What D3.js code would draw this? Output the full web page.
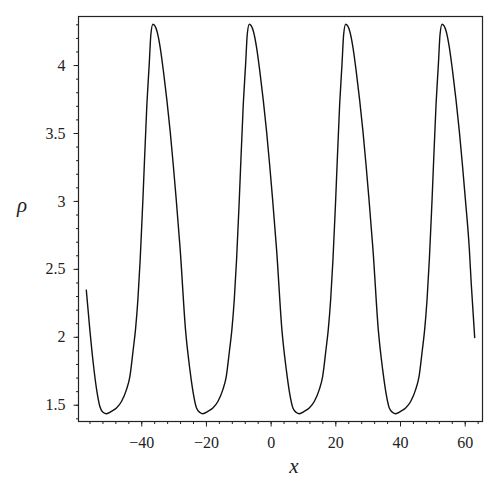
<!DOCTYPE html>
<html>
<head>
<meta charset="utf-8">
<script src="https://cdn.jsdelivr.net/npm/d3@7"></script>
<style>
  body { margin: 0; background: #fff; }
  svg { display: block; }
  svg text { font-family: "Liberation Serif", "Times New Roman", serif; }
</style>
</head>
<body>
<script>
'use strict';
(function () {
  // values
  let xValues = [
    -57.0, -55.9, -54.85, -53.8, -52.8, -51.75, -50.75,
    -49.21, -47.66, -46.11, -44.57, -43.51, -42.49, -41.78, -41.04, -40.33, -39.49,
    -38.26, -37.54, -37.02, -36.4, -35.16, -34.14, -33.12, -32.07, -31.05, -30.12, -29.19,
    -27.96, -26.32, -24.96, -23.93, -22.91, -21.86,
    -20.95, -19.41, -17.86, -16.31, -14.77, -13.71, -12.69, -11.98, -11.24, -10.53,
    -9.69, -8.46, -7.74, -7.22, -6.6, -5.36, -4.34, -3.32, -2.27, -1.25, -0.32, 0.61,
    1.84, 3.48, 4.84, 5.87, 6.89, 7.94,
    8.85, 10.39, 11.94, 13.49, 15.03, 16.09, 17.11, 17.82, 18.56, 19.27, 20.11,
    21.34, 22.06, 22.58, 23.2, 24.44, 25.46, 26.48, 27.53, 28.55, 29.48, 30.41,
    31.64, 33.28, 34.64, 35.67, 36.69, 37.74,
    38.65, 40.19, 41.74, 43.29, 44.83, 45.89, 46.91, 47.62, 48.36, 49.07, 49.91,
    51.14, 51.86, 52.38, 53.0, 54.24, 55.26, 56.28, 57.33, 58.35, 59.28, 60.21,
    61.44, 62.0, 63.1
  ];
  let rhoValues = [
    2.347, 2.053, 1.807, 1.611, 1.487, 1.443, 1.434,
    1.451, 1.476, 1.524, 1.611, 1.709, 1.905, 2.053, 2.274, 2.569, 3.011,
    3.711, 4.005, 4.227, 4.30, 4.251, 4.129, 3.95, 3.74, 3.51, 3.27, 3.011,
    2.642, 2.053, 1.758, 1.586, 1.476, 1.443,
    1.434, 1.451, 1.476, 1.524, 1.611, 1.709, 1.905, 2.053, 2.274, 2.569,
    3.011, 3.711, 4.005, 4.227, 4.30, 4.251, 4.129, 3.95, 3.74, 3.51, 3.27, 3.011,
    2.642, 2.053, 1.758, 1.586, 1.476, 1.443,
    1.434, 1.451, 1.476, 1.524, 1.611, 1.709, 1.905, 2.053, 2.274, 2.569, 3.011,
    3.711, 4.005, 4.227, 4.30, 4.251, 4.129, 3.95, 3.74, 3.51, 3.27, 3.011,
    2.642, 2.053, 1.758, 1.586, 1.476, 1.443,
    1.434, 1.451, 1.476, 1.524, 1.611, 1.709, 1.905, 2.053, 2.274, 2.569, 3.011,
    3.711, 4.005, 4.227, 4.30, 4.251, 4.129, 3.95, 3.74, 3.51, 3.27, 3.011,
    2.642, 2.40, 1.99
  ];
  let xTicks = [-40, -20, 0, 20, 40, 60];
  let yTicks = [1.5, 2, 2.5, 3, 3.5, 4];
  let xMinorTicks = [-56, -52, -48, -44, -40, -36, -32, -28, -24, -20, -16, -12, -8, -4,
    0, 4, 8, 12, 16, 20, 24, 28, 32, 36, 40, 44, 48, 52, 56, 60, 64];
  let yMinorTicks = [1.4, 1.5, 1.6, 1.7, 1.8, 1.9, 2, 2.1, 2.2, 2.3, 2.4, 2.5, 2.6, 2.7,
    2.8, 2.9, 3, 3.1, 3.2, 3.3, 3.4, 3.5, 3.6, 3.7, 3.8, 3.9, 4, 4.1, 4.2, 4.3];

  let width = 500;
  let height = 495;
  let plot = { left: 78.5, right: 482.5, top: 16.5, bottom: 421.5 };
  let labelFont = 'Liberation Serif';

  window.onload = function () {
    let svg = d3.select('body')
      .append('svg')
      .attr('width', width)
      .attr('height', height);

    let points = xValues.map((x, i) => ({ x: x, rho: rhoValues[i] }));

    // 2% padding around the data, like the original plot
    let xExt = d3.extent(xValues);
    let yExt = d3.extent(rhoValues);
    let xPad = (xExt[1] - xExt[0]) * 0.02;
    let yPad = (yExt[1] - yExt[0]) * 0.02;

    let xScale = d3.scaleLinear()
      .domain([xExt[0] - xPad, xExt[1] + xPad])
      .range([plot.left, plot.right]);
    let yScale = d3.scaleLinear()
      .domain([yExt[0] - yPad, yExt[1] + yPad])
      .range([plot.bottom, plot.top]);

    drawAxes(svg, xScale, yScale);

    let line = d3.line()
      .x((d) => xScale(d.x))
      .y((d) => yScale(d.rho))
      .curve(d3.curveMonotoneX);

    svg.append('path')
      .datum(points)
      .attr('fill', 'none')
      .attr('stroke', '#111')
      .attr('stroke-width', 1.4)
      .attr('stroke-linejoin', 'round')
      .attr('d', line);

    // axis titles
    svg.append('text')
      .attr('x', 294)
      .attr('y', 472.5)
      .attr('text-anchor', 'middle')
      .attr('font-family', labelFont)
      .style('font-family', labelFont)
      .style('font-style', 'italic')
      .style('font-size', '21px')
      .attr('fill', '#222')
      .text('x');
    svg.append('text')
      .attr('x', 22)
      .attr('y', 212)
      .attr('text-anchor', 'middle')
      .attr('font-family', labelFont)
      .style('font-family', labelFont)
      .style('font-style', 'italic')
      .style('font-size', '21px')
      .attr('fill', '#222')
      .text('ρ');
  };

  function drawAxes(svg, xScale, yScale) {
    // minor ticks
    svg.append('g')
      .attr('transform', 'translate(0,' + plot.bottom + ')')
      .call(d3.axisBottom(xScale).tickValues(xMinorTicks).tickSize(2.5).tickFormat(''))
      .call((g) => g.select('.domain').remove());
    svg.append('g')
      .attr('transform', 'translate(' + plot.left + ',0)')
      .call(d3.axisLeft(yScale).tickValues(yMinorTicks).tickSize(2.5).tickFormat(''))
      .call((g) => g.select('.domain').remove());

    // major ticks with labels
    let xAxis = svg.append('g')
      .attr('transform', 'translate(0,' + plot.bottom + ')')
      .call(d3.axisBottom(xScale).tickValues(xTicks).tickSize(5).tickPadding(10)
        .tickFormat((d) => d < 0 ? '\u2212' + Math.abs(d) : String(d)));
    xAxis.select('.domain').remove();

    let yAxis = svg.append('g')
      .attr('transform', 'translate(' + plot.left + ',0)')
      .call(d3.axisLeft(yScale).tickValues(yTicks).tickSize(5).tickPadding(8)
        .tickFormat((d) => String(d)));
    yAxis.select('.domain').remove();

    svg.selectAll('g').attr('font-family', labelFont).attr('font-size', 16);
    svg.selectAll('.tick line').attr('stroke', '#222');
    svg.selectAll('.tick text')
      .attr('font-family', labelFont)
      .style('font-family', labelFont)
      .style('font-size', '16px')
      .attr('fill', '#222');

    // frame
    svg.append('rect')
      .attr('x', plot.left)
      .attr('y', plot.top)
      .attr('width', plot.right - plot.left)
      .attr('height', plot.bottom - plot.top)
      .attr('fill', 'none')
      .attr('stroke', '#222')
      .attr('stroke-width', 1.2);
  }
})();
</script>
</body>
</html>
